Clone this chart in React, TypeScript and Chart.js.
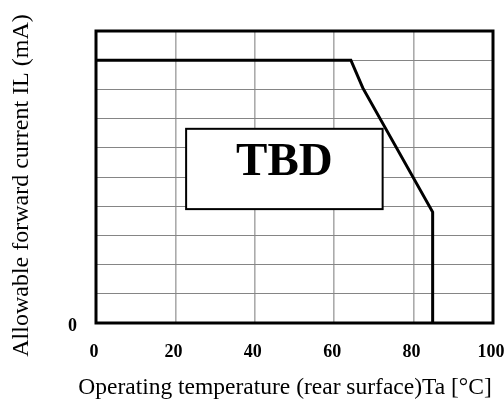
import React, { useEffect, useRef } from "react";
import { Chart, registerables } from "chart.js";

Chart.register(...registerables);

// Derating curve (Ta in °C, IL in grid units — axis values are unlabeled except 0)
const temperatures = [0, 64.2, 67.2, 84.8, 84.8];
const currents = [9, 9, 8.05, 3.8, 0];

// Axis ranges / ticks
const xTickValues = [0, 20, 40, 60, 80, 100];
const yMin = 0;
const yMax = 10;
const yStep = 1;
const yLabeledTicks = [0];

// TBD annotation box in data coordinates
const tbdBoxX = [22.7, 72.2];
const tbdBoxY = [3.9, 6.65];
const tbdText = "TBD";
const tbdTextBaseline = 5.07;

const xTitle = "Operating temperature (rear surface)Ta [°C]";
const yTitle = "Allowable forward current IL (mA)";

const SERIF = "'Liberation Serif', 'Times New Roman', Times, serif";

export default function App() {
  const ref = useRef<HTMLCanvasElement | null>(null);

  useEffect(() => {
    if (!ref.current) return;

    const overlay = {
      id: "overlay",
      afterDatasetsDraw(chart: any) {
        const { ctx, chartArea, scales } = chart;
        const xs = scales.x;
        const ys = scales.y;
        // TBD box
        const l = xs.getPixelForValue(tbdBoxX[0]);
        const r = xs.getPixelForValue(tbdBoxX[1]);
        const t = ys.getPixelForValue(tbdBoxY[1]);
        const b = ys.getPixelForValue(tbdBoxY[0]);
        ctx.save();
        ctx.fillStyle = "#ffffff";
        ctx.fillRect(l, t, r - l, b - t);
        ctx.strokeStyle = "#000";
        ctx.lineWidth = 2;
        ctx.strokeRect(l, t, r - l, b - t);
        ctx.fillStyle = "#000";
        ctx.font = `bold 47px ${SERIF}`;
        ctx.textAlign = "center";
        ctx.textBaseline = "alphabetic";
        ctx.fillText(tbdText, (l + r) / 2, ys.getPixelForValue(tbdTextBaseline));
        // frame
        ctx.lineWidth = 3;
        ctx.strokeRect(
          chartArea.left,
          chartArea.top,
          chartArea.right - chartArea.left,
          chartArea.bottom - chartArea.top
        );
        ctx.restore();
      },
      afterDraw(chart: any) {
        const { ctx, chartArea } = chart;
        ctx.save();
        ctx.fillStyle = "#000";
        ctx.textAlign = "center";
        ctx.textBaseline = "middle";
        ctx.font = `23.5px ${SERIF}`;
        ctx.fillText(xTitle, 285, 388);
        ctx.translate(22, (chartArea.top + chartArea.bottom) / 2 + 8.5);
        ctx.rotate(-Math.PI / 2);
        ctx.font = `24px ${SERIF}`;
        ctx.fillText(yTitle, 0, 0);
        ctx.restore();
      },
    };

    const chart = new Chart(ref.current, {
      type: "line",
      data: {
        datasets: [
          {
            data: temperatures.map((x, i) => ({ x, y: currents[i] })),
            borderColor: "#000",
            borderWidth: 3,
            pointRadius: 0,
            tension: 0,
            fill: false,
          },
        ],
      },
      options: {
        responsive: false,
        animation: false,
        layout: { padding: { top: 31, right: 11, left: 0, bottom: 0 } },
        plugins: { legend: { display: false }, tooltip: { enabled: false } },
        scales: {
          x: {
            type: "linear",
            min: 0,
            max: 100,
            afterBuildTicks: (scale: any) => {
              scale.ticks = xTickValues.map((v) => ({ value: v }));
            },
            afterFit: (scale: any) => {
              scale.height = 77;
              scale.paddingLeft = 0;
              scale.paddingRight = 0;
            },
            grid: { color: "#ababab", lineWidth: 1.6, drawTicks: false },
            border: { display: false },
            ticks: {
              padding: 19,
              labelOffset: -2,
              color: "#000",
              font: { family: SERIF, size: 18, weight: "bold" },
              maxRotation: 0,
            },
          },
          y: {
            type: "linear",
            min: yMin,
            max: yMax,
            ticks: {
              stepSize: yStep,
              padding: 19,
              labelOffset: 3,
              color: "#000",
              font: { family: SERIF, size: 18, weight: "bold" },
              callback: (v: any) => (yLabeledTicks.includes(Number(v)) ? String(v) : ""),
            },
            afterFit: (scale: any) => {
              scale.width = 96;
              scale.paddingTop = 0;
              scale.paddingBottom = 0;
            },
            grid: { color: "#858585", lineWidth: 1, drawTicks: false },
            border: { display: false },
          },
        },
      },
      plugins: [overlay],
    } as any);

    return () => chart.destroy();
  }, []);

  return (
    <div style={{ position: "fixed", left: 0, top: 0, width: 504, height: 400, background: "#fff" }}>
      <canvas ref={ref} width={504} height={400} style={{ display: "block" }} />
    </div>
  );
}
